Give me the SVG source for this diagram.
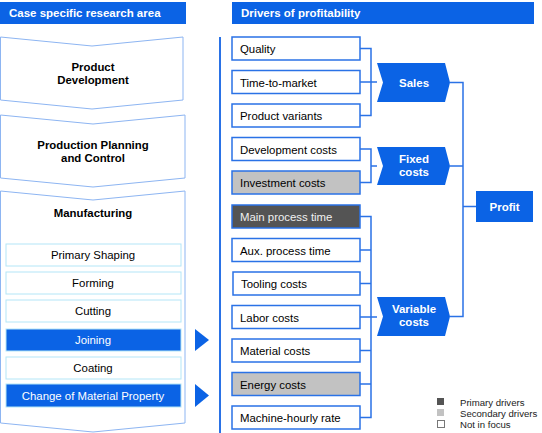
<svg xmlns="http://www.w3.org/2000/svg" width="542" height="433" viewBox="0 0 542 433">
<defs>
<style>
text{font-family:"Liberation Sans",Arial,sans-serif;font-size:11.4px;fill:#000}
.hdr{fill:#0b63e5}
.hdrt{fill:#fff;font-weight:bold;font-size:11.5px}
.chev{fill:#fff;stroke:#8db5f2;stroke-width:1}
.bt{font-weight:bold;font-size:11.4px;text-anchor:middle}
.sub{fill:#fff;stroke:#b3e6f7;stroke-width:1}
.subsel{fill:#0b63e5;stroke:#b3e6f7;stroke-width:1}
.st{text-anchor:middle}
.stw{text-anchor:middle;fill:#fff}
.drv{fill:#fff;stroke:#2a72e6;stroke-width:1.5}
.prim{fill:#545454;stroke:#2a72e6;stroke-width:1.5}
.sec{fill:#c2c2c2;stroke:#2a72e6;stroke-width:1.5}
.agg{fill:#0b63e5}
.aggt{fill:#fff;font-weight:bold;text-anchor:middle;font-size:11.5px}
.con{fill:none;stroke:#2a72e6;stroke-width:1.5}
.tri{fill:#0b63e5}
.leg{font-size:9.6px;fill:#222}
</style>
</defs>

<g id="header-left"><rect class="hdr" x="0" y="2" width="186" height="22"/><text class="hdrt" x="9" y="17">Case specific research area</text></g>
<g id="header-right"><rect class="hdr" x="232" y="2" width="302" height="22"/><text class="hdrt" x="241" y="17">Drivers of profitability</text></g>

<g id="product-development">
<polygon class="chev" points="0.5,37 92,46 183,37 183,100 92,109 0.5,100"/>
<text class="bt" x="93" y="71">Product</text>
<text class="bt" x="93" y="84">Development</text>
</g>
<g id="production-planning">
<polygon class="chev" points="0.5,115 93,124 185,115 185,178 93,187 0.5,178"/>
<text class="bt" x="93" y="149">Production Planning</text>
<text class="bt" x="93" y="162">and Control</text>
</g>
<g id="manufacturing">
<polygon class="chev" points="0.5,191 93,200 185,191 185,423 93,432 0.5,423"/>
<text class="bt" x="93" y="217">Manufacturing</text>
</g>
<g id="primary-shaping"><rect class="sub" x="6" y="244" width="175" height="22"/><text class="st" x="93" y="259">Primary Shaping</text></g>
<g id="forming"><rect class="sub" x="6" y="272" width="175" height="22"/><text class="st" x="93" y="287">Forming</text></g>
<g id="cutting"><rect class="sub" x="6" y="300" width="175" height="22"/><text class="st" x="93" y="315">Cutting</text></g>
<g id="joining"><rect class="subsel" x="6" y="329" width="175" height="22"/><text class="stw" x="93" y="344">Joining</text></g>
<g id="coating"><rect class="sub" x="6" y="357" width="175" height="22"/><text class="st" x="93" y="372">Coating</text></g>
<g id="change-material"><rect class="subsel" x="6" y="384" width="175" height="23"/><text class="stw" x="93" y="399.5">Change of Material Property</text></g>

<g id="arrows">
<polygon class="tri" points="195,329 209,340 195,351"/>
<polygon class="tri" points="195,384 209,395.5 195,407"/>
</g>

<g id="quality"><rect class="drv" x="232" y="37" width="128" height="23"/><text x="240" y="53">Quality</text></g>
<g id="time-to-market"><rect class="drv" x="232" y="70.5" width="128" height="23"/><text x="240" y="86.5">Time-to-market</text></g>
<g id="product-variants"><rect class="drv" x="232" y="104" width="128" height="23"/><text x="240" y="120">Product variants</text></g>
<g id="development-costs"><rect class="drv" x="232" y="137.5" width="128" height="23"/><text x="240" y="153.5">Development costs</text></g>
<g id="investment-costs"><rect class="sec" x="232" y="171" width="128" height="23"/><text x="240" y="187">Investment costs</text></g>
<g id="main-process-time"><rect class="prim" x="232" y="205" width="128" height="23"/><text x="240" y="221" style="fill:#f0f0f0">Main process time</text></g>
<g id="aux-process-time"><rect class="drv" x="232" y="238.5" width="128" height="23"/><text x="240" y="254.5">Aux. process time</text></g>
<g id="tooling-costs"><rect class="drv" x="233" y="272" width="127" height="23"/><text x="241" y="288">Tooling costs</text></g>
<g id="labor-costs"><rect class="drv" x="232" y="305.5" width="128" height="23"/><text x="240" y="321.5">Labor costs</text></g>
<g id="material-costs"><rect class="drv" x="232" y="339" width="128" height="23"/><text x="240" y="355">Material costs</text></g>
<g id="energy-costs"><rect class="sec" x="232" y="372.5" width="128" height="23"/><text x="240" y="388.5">Energy costs</text></g>
<g id="machine-hourly-rate"><rect class="drv" x="232" y="406" width="128" height="23"/><text x="240" y="422">Machine-hourly rate</text></g>

<g id="sales"><polygon class="agg" points="377,63 445,63 450,82.5 445,102 377,102 383,82.5"/><text class="aggt" x="414" y="86.5">Sales</text></g>
<g id="fixed-costs"><polygon class="agg" points="377,147 445,147 450,166 445,185 377,185 383,166"/><text class="aggt" x="414" y="163">Fixed</text><text class="aggt" x="414" y="176">costs</text></g>
<g id="variable-costs"><polygon class="agg" points="377,297 445,297 450,316.5 445,336 377,336 383,316.5"/><text class="aggt" x="414" y="313">Variable</text><text class="aggt" x="414" y="326">costs</text></g>
<g id="profit"><rect class="agg" x="476" y="191" width="57" height="31"/><text class="aggt" x="504.5" y="210.5">Profit</text></g>

<g id="connectors">
<line class="con" x1="220" y1="37" x2="220" y2="433" style="stroke-width:2"/>
<path class="con" d="M360,48.5H371V115.5H360M360,82H377"/>
<path class="con" d="M360,149H371V182.5H360M371,166H377"/>
<path class="con" d="M360,216.5H371V417.5H360M360,250H371M360,283.5H371M360,317H377M360,350.5H371M360,384H371"/>
<path class="con" d="M450,82.5H463V316.5H450M450,166H463M463,206.5H476"/>
</g>

<g id="legend">
<rect x="437" y="398" width="7" height="7" fill="#545454"/>
<text class="leg" x="460" y="406">Primary drivers</text>
<rect x="437" y="409" width="7" height="7" fill="#c2c2c2"/>
<text class="leg" x="460" y="417">Secondary drivers</text>
<rect x="437.5" y="420.5" width="7" height="7" fill="#fff" stroke="#777" stroke-width="1"/>
<text class="leg" x="460" y="428">Not in focus</text>
</g>
</svg>
